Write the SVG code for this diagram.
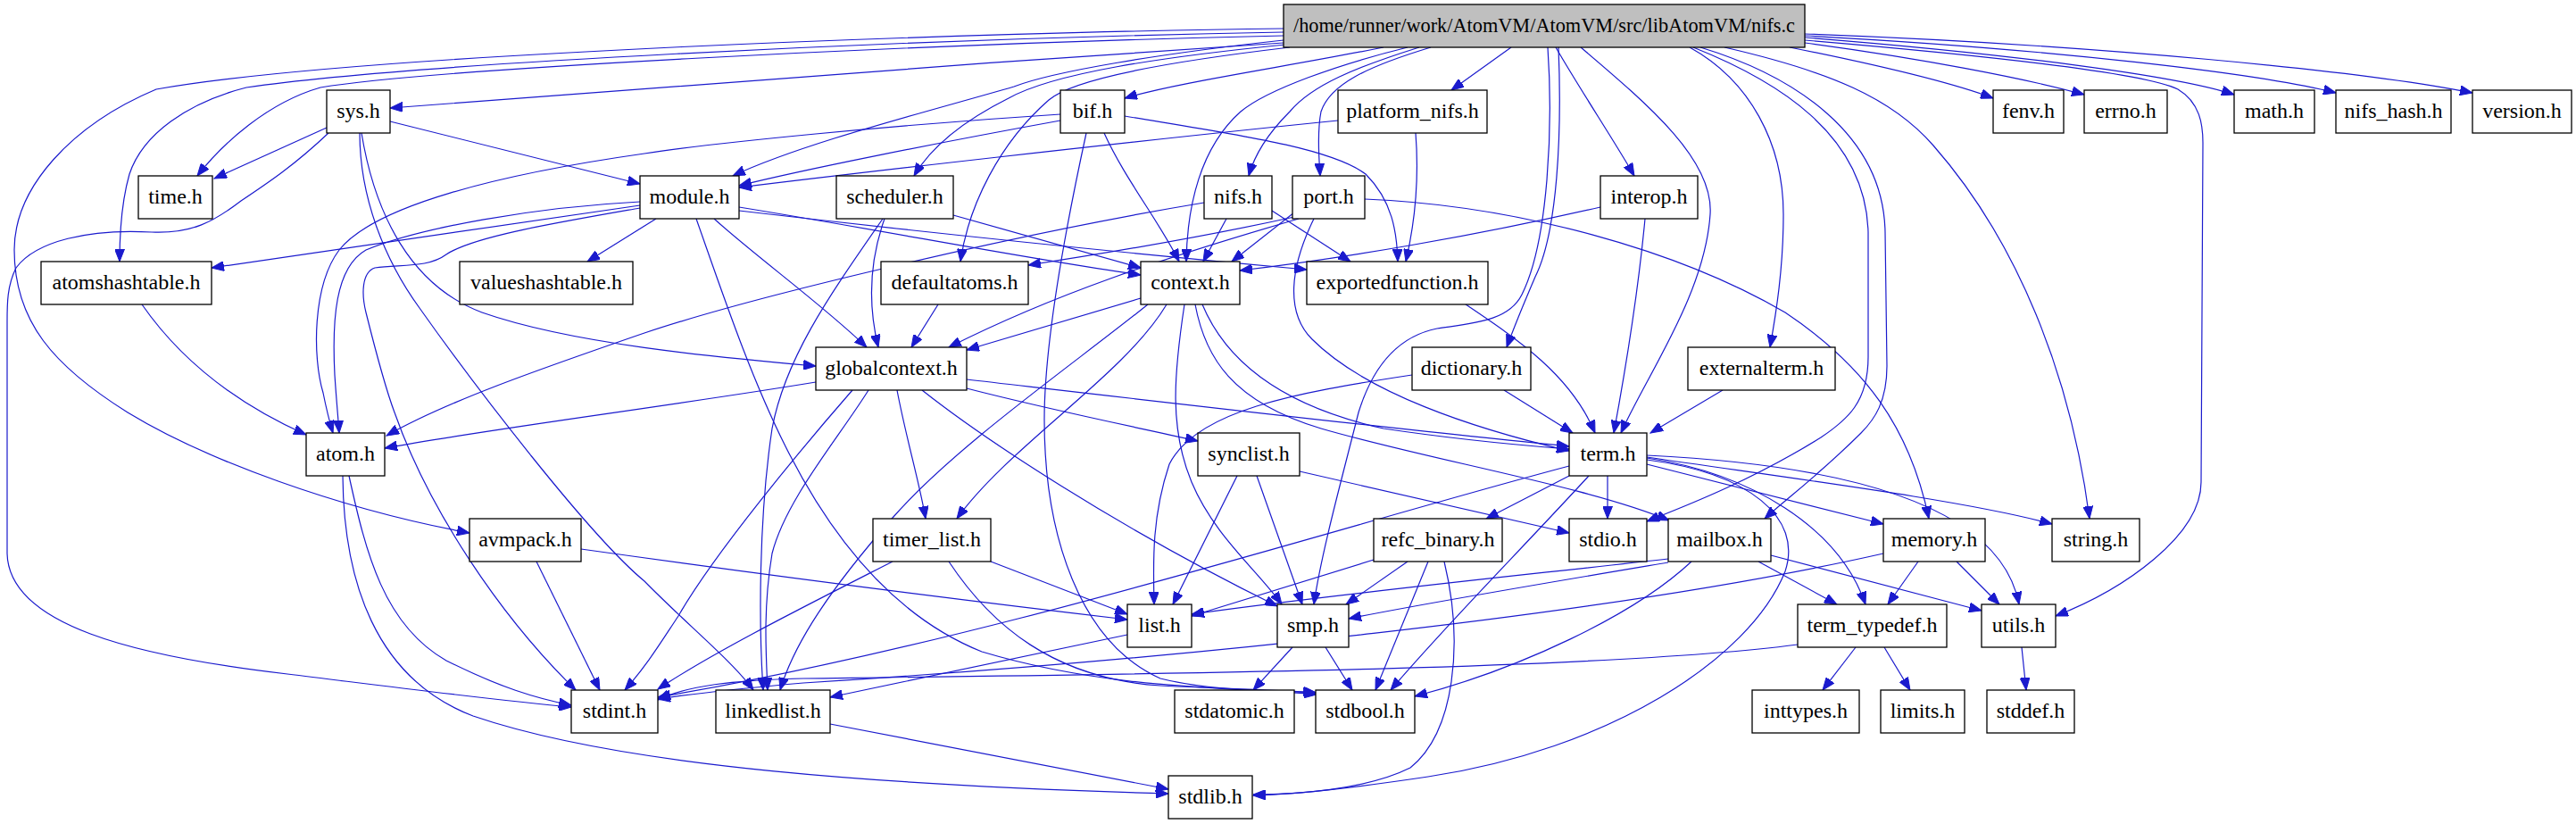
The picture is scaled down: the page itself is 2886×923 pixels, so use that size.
<svg xmlns="http://www.w3.org/2000/svg" width="2886" height="923" viewBox="0 0 2886 923">
<style>
.n rect{fill:#fff;stroke:#000;stroke-width:1.3}
.n.root rect{fill:#bfbfbf}
.n text{font-family:"Liberation Serif","Times New Roman",serif;font-size:24px;text-anchor:middle;fill:#000}
#edges path{fill:none;stroke:#1a1acd;stroke-width:1.2;marker-end:url(#arr)}
</style>
<defs>
<marker id="arr" markerUnits="userSpaceOnUse" markerWidth="15" markerHeight="11" refX="14" refY="5.5" orient="auto"><path d="M0,0 L14,5.5 L0,11 z" fill="#1a1acd" stroke="#1a1acd" stroke-width="1"/></marker>
</defs>
<rect width="2886" height="923" fill="#fff"/>
<g id="edges">
<!-- nifs.c -->
<path d="M1438,32 C1100,36 400,60 175,100 C80,140 16,210 16,280 C16,360 60,410 143,462 C230,515 380,570 526,597"/>
<path d="M1438,36 C1000,44 450,72 276,98 C210,115 160,150 145,195 C135,230 134,265 134,293"/>
<path d="M1438,40 C1000,50 480,78 359,98 C300,115 250,160 221,197"/>
<path d="M1438,48 C1100,70 700,100 437,121"/>
<path d="M1438,45 C1300,60 1180,80 1136,97 C1040,125 900,160 821,197"/>
<path d="M1440,50 C1300,64 1180,82 1130,110 C1070,140 1040,170 1024,197"/>
<path d="M1445,53 C1300,70 1200,90 1175,112 C1120,160 1085,230 1076,293"/>
<path d="M1550,53 C1440,75 1320,92 1260,110"/>
<path d="M1577,53 C1500,72 1420,100 1390,125 C1345,165 1330,230 1329,293"/>
<path d="M1590,53 C1520,75 1470,95 1445,125 C1420,150 1405,175 1399,197"/>
<path d="M1693,53 L1626,101"/>
<path d="M1603,53 C1530,75 1490,95 1480,125 C1475,150 1478,180 1479,197"/>
<path d="M1743,53 C1770,100 1810,160 1831,197"/>
<path d="M1734,53 C1740,140 1735,270 1705,330 C1690,360 1650,362 1610,368 C1560,378 1535,420 1522,462 C1505,530 1480,620 1472,677"/>
<path d="M1746,53 C1750,150 1745,260 1720,310 C1705,345 1695,370 1688,389"/>
<path d="M1771,53 C1850,120 1920,180 1916,240 C1910,330 1845,420 1816,485"/>
<path d="M1893,53 C1960,90 1998,160 1998,240 C1998,300 1990,350 1983,389"/>
<path d="M1897,53 C1990,90 2090,150 2093,260 L2093,400 C2093,450 2070,470 2040,490 C1960,540 1880,570 1845,584"/>
<path d="M1905,53 C2010,85 2110,150 2112,260 L2114,410 C2114,450 2100,470 2085,485 C2040,530 2000,560 1977,581"/>
<path d="M1932,53 C2050,80 2120,110 2166,163 C2260,270 2320,420 2341,581"/>
<path d="M2022,45 C2200,60 2400,80 2440,100 C2465,115 2468,140 2468,160 L2466,540 C2466,600 2380,660 2303,690"/>
<path d="M2005,53 C2090,70 2180,90 2233,110"/>
<path d="M2022,48 C2150,65 2270,88 2335,106"/>
<path d="M2022,42 C2250,60 2440,85 2503,106"/>
<path d="M2022,40 C2300,55 2530,82 2617,104"/>
<path d="M2022,38 C2350,50 2650,80 2770,104"/>
<!-- sys.h -->
<path d="M366,143 L240,200"/>
<path d="M437,136 L717,206"/>
<path d="M405,149 C420,240 460,320 540,350 C640,385 800,400 914,410"/>
<path d="M403,149 C403,220 430,290 470,345 C530,430 660,600 722,651 C770,700 820,740 844,773"/>
<path d="M368,149 C330,185 300,205 270,225 C240,248 215,262 170,260 C100,256 40,270 18,300 C8,320 8,340 8,360 L8,620 C10,700 150,735 322,755 C460,772 560,785 640,792"/>
<!-- bif.h -->
<path d="M1188,135 C1050,160 900,190 828,208"/>
<path d="M1188,128 C1000,140 800,160 722,172 C560,195 420,230 380,280 C350,320 350,400 362,440 C366,460 370,475 373,485"/>
<path d="M1237,149 C1260,200 1300,250 1321,293"/>
<path d="M1260,130 C1380,150 1490,165 1530,195 C1560,225 1565,260 1566,293"/>
<path d="M1217,149 C1195,250 1170,380 1170,470 C1170,600 1210,720 1300,760 C1360,775 1430,773 1475,776"/>
<!-- platform_nifs.h -->
<path d="M1499,135 C1250,160 950,195 828,210"/>
<path d="M1586,149 C1590,200 1585,250 1575,293"/>
<!-- module.h -->
<path d="M717,230 L237,300"/>
<path d="M735,245 L658,293"/>
<path d="M717,226 C600,232 470,255 410,280 C375,300 372,360 375,420 C377,450 379,470 380,485"/>
<path d="M717,233 C620,250 530,265 500,285 C480,300 450,296 420,300 C405,305 405,330 410,350 C420,390 430,430 442,462 C480,570 560,690 645,773"/>
<path d="M800,245 C850,290 920,340 971,389"/>
<path d="M828,232 C1000,260 1150,290 1278,308"/>
<path d="M828,236 C1050,262 1300,287 1464,302"/>
<path d="M780,245 C810,330 840,420 880,500 C930,600 1000,690 1100,730 C1250,775 1400,770 1475,778"/>
<!-- scheduler.h -->
<path d="M1068,241 L1278,300"/>
<path d="M991,245 C975,290 972,340 984,389"/>
<path d="M989,245 C930,330 880,400 865,480 C850,580 850,700 855,773"/>
<!-- nifs.h -->
<path d="M1349,227 C1150,260 850,330 722,373 C600,415 500,450 433,488"/>
<path d="M1374,245 L1348,293"/>
<path d="M1425,236 L1513,293"/>
<!-- port.h -->
<path d="M1450,238 L1380,293"/>
<path d="M1450,243 C1350,265 1230,285 1152,297"/>
<path d="M1455,245 C1300,290 1180,330 1063,389"/>
<path d="M1529,223 C1700,230 1880,280 2000,350 C2090,410 2140,480 2161,581"/>
<path d="M1472,245 C1445,300 1440,350 1470,380 C1530,440 1650,480 1758,505"/>
<!-- interop.h -->
<path d="M1793,232 C1650,265 1500,290 1389,303"/>
<path d="M1843,245 C1835,330 1820,420 1808,485"/>
<!-- atomshashtable, defaultatoms -->
<path d="M159,341 C200,400 260,450 343,487"/>
<path d="M1051,341 L1021,389"/>
<!-- context.h -->
<path d="M1278,334 L1083,392"/>
<path d="M1286,341 C1200,410 1070,500 1000,580 C930,660 890,720 874,773"/>
<path d="M1307,341 C1260,420 1130,500 1072,581"/>
<path d="M1327,341 C1315,420 1310,480 1335,540 C1360,600 1410,640 1436,677"/>
<path d="M1339,341 C1350,400 1380,450 1480,480 C1600,515 1780,545 1870,583"/>
<path d="M1347,341 C1380,420 1460,460 1550,480 C1650,495 1720,500 1758,503"/>
<!-- exportedfunction.h -->
<path d="M1642,341 C1700,380 1760,420 1787,485"/>
<!-- globalcontext.h -->
<path d="M914,428 C750,455 550,480 431,502"/>
<path d="M973,437 C940,490 880,560 865,620 C855,680 858,730 860,773"/>
<path d="M1005,437 C1015,490 1030,540 1037,581"/>
<path d="M1033,437 C1100,490 1250,590 1431,679"/>
<path d="M1083,435 C1180,460 1280,480 1342,494"/>
<path d="M1083,425 C1300,450 1600,485 1758,500"/>
<path d="M955,437 C900,500 800,620 760,690 C740,720 725,745 700,773"/>
<!-- dictionary, externalterm -->
<path d="M1685,437 L1762,485"/>
<path d="M1582,420 C1450,440 1340,460 1310,520 C1290,580 1292,630 1293,677"/>
<path d="M1930,437 L1849,485"/>
<!-- atom.h -->
<path d="M391,533 C410,620 430,700 500,740 C560,770 600,782 640,790"/>
<path d="M384,533 C385,650 420,760 530,802 C700,860 1000,880 1309,889"/>
<!-- synclist.h -->
<path d="M1386,533 L1314,677"/>
<path d="M1408,533 L1459,677"/>
<path d="M1456,528 L1758,597"/>
<!-- term.h -->
<path d="M1801,533 L1801,581"/>
<path d="M1758,533 L1665,581"/>
<path d="M1845,520 L2110,587"/>
<path d="M1845,512 C2000,535 2200,560 2299,587"/>
<path d="M1845,513 C1960,530 2060,590 2090,677"/>
<path d="M1845,510 C2050,520 2240,560 2262,677"/>
<path d="M1845,515 C1960,530 2020,580 2000,640 C1960,740 1800,840 1600,870 C1500,885 1440,890 1404,891"/>
<path d="M1780,533 C1700,620 1620,700 1558,773"/>
<path d="M1758,522 C1500,590 1100,720 737,781"/>
<!-- avmpack.h -->
<path d="M651,615 C900,650 1100,675 1263,694"/>
<path d="M601,629 L672,773"/>
<!-- timer_list.h -->
<path d="M1110,629 L1263,688"/>
<path d="M1063,629 C1110,700 1180,760 1300,768 C1380,772 1440,773 1474,776"/>
<path d="M1000,629 C900,680 800,730 737,772"/>
<!-- refc_binary.h -->
<path d="M1539,627 L1335,690"/>
<path d="M1577,629 L1508,677"/>
<path d="M1600,629 L1541,773"/>
<path d="M1618,629 C1640,720 1630,820 1580,860 C1530,885 1450,890 1404,890"/>
<!-- mailbox.h -->
<path d="M1869,626 C1700,645 1500,665 1335,688"/>
<path d="M1869,630 C1750,650 1600,675 1511,693"/>
<path d="M1895,629 C1830,690 1700,750 1585,780"/>
<path d="M1970,629 L2058,677"/>
<path d="M1984,622 L2220,684"/>
<!-- memory.h -->
<path d="M2149,629 L2115,677"/>
<path d="M2192,629 L2240,677"/>
<path d="M2110,620 C1800,690 1300,740 900,765 C820,772 770,778 737,783"/>
<!-- term_typedef.h -->
<path d="M2079,725 L2042,773"/>
<path d="M2111,725 L2140,773"/>
<path d="M2014,722 C1800,750 1300,755 900,760 C820,762 770,768 737,784"/>
<!-- utils, list, smp, linkedlist -->
<path d="M2265,725 L2270,773"/>
<path d="M1263,711 L930,781"/>
<path d="M1448,725 L1404,773"/>
<path d="M1485,725 L1515,773"/>
<path d="M930,811 L1309,884"/>
</g>
<g id="node-nifs_c" class="n root"><rect x="1438" y="5" width="584" height="48"/><text x="1730" y="36" textLength="562" lengthAdjust="spacingAndGlyphs">/home/runner/work/AtomVM/AtomVM/src/libAtomVM/nifs.c</text></g>
<g id="node-sys_h" class="n"><rect x="366" y="101" width="71" height="48"/><text x="401.5" y="132">sys.h</text></g>
<g id="node-bif_h" class="n"><rect x="1188" y="101" width="72" height="48"/><text x="1224" y="132">bif.h</text></g>
<g id="node-platform_nifs_h" class="n"><rect x="1499" y="101" width="167" height="48"/><text x="1582.5" y="132">platform_nifs.h</text></g>
<g id="node-fenv_h" class="n"><rect x="2233" y="101" width="79" height="48"/><text x="2272.5" y="132">fenv.h</text></g>
<g id="node-errno_h" class="n"><rect x="2335" y="101" width="93" height="48"/><text x="2381.5" y="132">errno.h</text></g>
<g id="node-math_h" class="n"><rect x="2503" y="101" width="90" height="48"/><text x="2548" y="132">math.h</text></g>
<g id="node-nifs_hash_h" class="n"><rect x="2617" y="101" width="129" height="48"/><text x="2681.5" y="132">nifs_hash.h</text></g>
<g id="node-version_h" class="n"><rect x="2770" y="101" width="111" height="48"/><text x="2825.5" y="132">version.h</text></g>
<g id="node-time_h" class="n"><rect x="155" y="197" width="83" height="48"/><text x="196.5" y="228">time.h</text></g>
<g id="node-module_h" class="n"><rect x="717" y="197" width="111" height="48"/><text x="772.5" y="228">module.h</text></g>
<g id="node-scheduler_h" class="n"><rect x="937" y="197" width="131" height="48"/><text x="1002.5" y="228">scheduler.h</text></g>
<g id="node-nifs_h" class="n"><rect x="1349" y="197" width="76" height="48"/><text x="1387" y="228">nifs.h</text></g>
<g id="node-port_h" class="n"><rect x="1448" y="197" width="81" height="48"/><text x="1488.5" y="228">port.h</text></g>
<g id="node-interop_h" class="n"><rect x="1793" y="197" width="109" height="48"/><text x="1847.5" y="228">interop.h</text></g>
<g id="node-atomshashtable_h" class="n"><rect x="46" y="293" width="191" height="48"/><text x="141.5" y="324">atomshashtable.h</text></g>
<g id="node-valueshashtable_h" class="n"><rect x="515" y="293" width="194" height="48"/><text x="612" y="324">valueshashtable.h</text></g>
<g id="node-defaultatoms_h" class="n"><rect x="987" y="293" width="165" height="48"/><text x="1069.5" y="324">defaultatoms.h</text></g>
<g id="node-context_h" class="n"><rect x="1278" y="293" width="111" height="48"/><text x="1333.5" y="324">context.h</text></g>
<g id="node-exportedfunction_h" class="n"><rect x="1464" y="293" width="203" height="48"/><text x="1565.5" y="324">exportedfunction.h</text></g>
<g id="node-globalcontext_h" class="n"><rect x="914" y="389" width="169" height="48"/><text x="998.5" y="420">globalcontext.h</text></g>
<g id="node-dictionary_h" class="n"><rect x="1582" y="389" width="133" height="48"/><text x="1648.5" y="420">dictionary.h</text></g>
<g id="node-externalterm_h" class="n"><rect x="1891" y="389" width="165" height="48"/><text x="1973.5" y="420">externalterm.h</text></g>
<g id="node-atom_h" class="n"><rect x="343" y="485" width="88" height="48"/><text x="387" y="516">atom.h</text></g>
<g id="node-synclist_h" class="n"><rect x="1342" y="485" width="114" height="48"/><text x="1399" y="516">synclist.h</text></g>
<g id="node-term_h" class="n"><rect x="1758" y="485" width="87" height="48"/><text x="1801.5" y="516">term.h</text></g>
<g id="node-avmpack_h" class="n"><rect x="526" y="581" width="125" height="48"/><text x="588.5" y="612">avmpack.h</text></g>
<g id="node-timer_list_h" class="n"><rect x="978" y="581" width="132" height="48"/><text x="1044" y="612">timer_list.h</text></g>
<g id="node-refc_binary_h" class="n"><rect x="1539" y="581" width="144" height="48"/><text x="1611" y="612">refc_binary.h</text></g>
<g id="node-stdio_h" class="n"><rect x="1758" y="581" width="87" height="48"/><text x="1801.5" y="612">stdio.h</text></g>
<g id="node-mailbox_h" class="n"><rect x="1869" y="581" width="115" height="48"/><text x="1926.5" y="612">mailbox.h</text></g>
<g id="node-memory_h" class="n"><rect x="2110" y="581" width="114" height="48"/><text x="2167" y="612">memory.h</text></g>
<g id="node-string_h" class="n"><rect x="2299" y="581" width="98" height="48"/><text x="2348" y="612">string.h</text></g>
<g id="node-list_h" class="n"><rect x="1263" y="677" width="72" height="48"/><text x="1299" y="708">list.h</text></g>
<g id="node-smp_h" class="n"><rect x="1431" y="677" width="80" height="48"/><text x="1471" y="708">smp.h</text></g>
<g id="node-term_typedef_h" class="n"><rect x="2014" y="677" width="167" height="48"/><text x="2097.5" y="708">term_typedef.h</text></g>
<g id="node-utils_h" class="n"><rect x="2220" y="677" width="83" height="48"/><text x="2261.5" y="708">utils.h</text></g>
<g id="node-stdint_h" class="n"><rect x="640" y="773" width="97" height="48"/><text x="688.5" y="804">stdint.h</text></g>
<g id="node-linkedlist_h" class="n"><rect x="802" y="773" width="128" height="48"/><text x="866" y="804">linkedlist.h</text></g>
<g id="node-stdatomic_h" class="n"><rect x="1316" y="773" width="134" height="48"/><text x="1383" y="804">stdatomic.h</text></g>
<g id="node-stdbool_h" class="n"><rect x="1474" y="773" width="111" height="48"/><text x="1529.5" y="804">stdbool.h</text></g>
<g id="node-inttypes_h" class="n"><rect x="1963" y="773" width="120" height="48"/><text x="2023" y="804">inttypes.h</text></g>
<g id="node-limits_h" class="n"><rect x="2107" y="773" width="94" height="48"/><text x="2154" y="804">limits.h</text></g>
<g id="node-stddef_h" class="n"><rect x="2226" y="773" width="98" height="48"/><text x="2275" y="804">stddef.h</text></g>
<g id="node-stdlib_h" class="n"><rect x="1309" y="869" width="94" height="48"/><text x="1356" y="900">stdlib.h</text></g>
</svg>
